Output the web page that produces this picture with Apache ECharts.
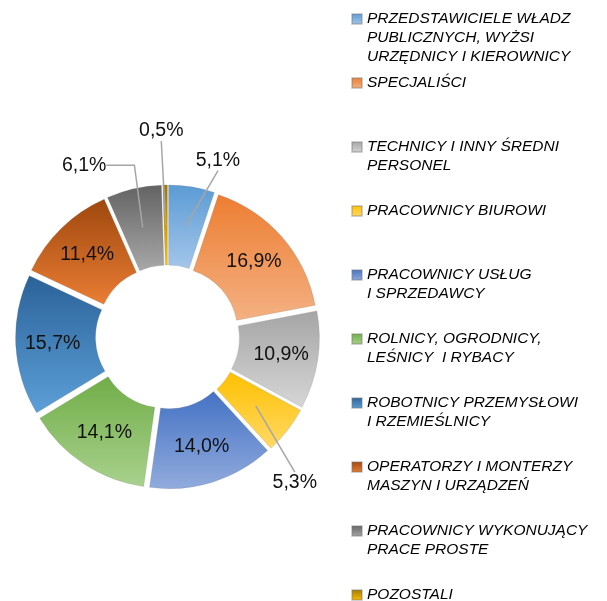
<!DOCTYPE html>
<html>
<head>
<meta charset="utf-8">
<script src="https://cdn.jsdelivr.net/npm/echarts@6/dist/echarts.min.js"></script>
<style>
  html, body { margin: 0; padding: 0; background: #fff; }
  #chart { width: 607px; height: 601px; }
</style>
</head>
<body>
<div id="chart"></div>
<script>
// grupy zawodów (kolejność jak w legendzie)
const categories = [
  'PRZEDSTAWICIELE WŁADZ\nPUBLICZNYCH, WYŻSI\nURZĘDNICY I KIEROWNICY',
  'SPECJALIŚCI',
  'TECHNICY I INNY ŚREDNI\nPERSONEL',
  'PRACOWNICY BIUROWI',
  'PRACOWNICY USŁUG\nI SPRZEDAWCY',
  'ROLNICY, OGRODNICY,\nLEŚNICY  I RYBACY',
  'ROBOTNICY PRZEMYSŁOWI\nI RZEMIEŚLNICY',
  'OPERATORZY I MONTERZY\nMASZYN I URZĄDZEŃ',
  'PRACOWNICY WYKONUJĄCY\nPRACE PROSTE',
  'POZOSTALI'
]
// udział w %
const shares = [5.1, 16.9, 10.9, 5.3, 14.0, 14.1, 15.7, 11.4, 6.1, 0.5]

// kolory gradientu (góra -> dół)
const topColors = ['#5b9bd5', '#ed7d31', '#a5a5a5', '#ffc000', '#4472c4', '#70ad47', '#2a6298', '#9e480e', '#636363', '#a07800']
const bottomColors = ['#a4c6ea', '#f4b183', '#d6d6d6', '#ffd966', '#91abdd', '#a9d18e', '#5d9fd8', '#ea7d34', '#a8a8a8', '#ffc000']

// etykiety poza pierścieniem: przesunięcie względem domyślnej pozycji
const outsideShift = { 0: [3, -51], 3: [0, 67], 8: [0, -48], 9: [23, -79] }

const font = "'Liberation Sans', Arial, sans-serif"
const fmt = v => v.toFixed(1).replace('.', ',') + '%'
const isOutside = i => outsideShift[i] !== undefined

let chart = echarts.init(document.getElementById('chart'))

//legenda - osobny komponent dla każdej pozycji, ikonka przy pierwszej linii
const lineH = 19
const legends = categories.map((name, i) => {
  const n = name.split('\n').length
  return {
    data: [name],
    orient: 'vertical',
    left: 351,
    top: 19 + 64 * i - (2 * n - 1) * lineH / 2,
    padding: 0,
    icon: 'rect',
    itemWidth: 10,
    itemHeight: 10,
    selectedMode: false,
    formatter: nm => '\n'.repeat(n - 1) + nm,
    textStyle: {
      fontFamily: font,
      fontStyle: 'italic',
      fontSize: 15.5,
      lineHeight: lineH,
      color: '#000'
    }
  }
})

chart.setOption({
  animation: false,
  legend: legends,
  series: [
    {
      type: 'pie',
      center: [167.5, 337],
      radius: [65, 145],
      startAngle: 90,
      avoidLabelOverlap: false,
      //rozsunięcie wycinków
      selectedMode: 'multiple',
      selectedOffset: 7,
      itemStyle: { borderColor: 'rgba(120,120,120,0.35)', borderWidth: 0.6 },
      label: {
        position: 'inside',
        formatter: p => fmt(p.value),
        fontFamily: font,
        fontSize: 19.5,
        color: '#111'
      },
      labelLine: { show: false },
      emphasis: { disabled: true },
      data: categories.map((name, i) => ({
        name,
        value: shares[i],
        selected: true,
        itemStyle: {
          color: new echarts.graphic.LinearGradient(0, 0, 0, 1, [
            { offset: 0, color: topColors[i] },
            { offset: 1, color: bottomColors[i] }
          ])
        },
        label: { show: !isOutside(i) }
      }))
    },
    {
      //niewidoczna warstwa - linie odniesienia od środka wycinka
      type: 'pie',
      z: 5,
      center: [167.5, 337],
      radius: [0, 112],
      startAngle: 90,
      silent: true,
      avoidLabelOverlap: false,
      itemStyle: { color: 'rgba(0,0,0,0)' },
      label: {
        position: 'outside',
        formatter: p => fmt(p.value),
        fontFamily: font,
        fontSize: 19.5,
        color: '#111'
      },
      labelLine: {
        length: 15,
        length2: 0,
        lineStyle: { color: '#a6a6a6', width: 1.5 }
      },
      labelLayout: p => {
        if (p.seriesIndex !== 1 || !isOutside(p.dataIndex)) return
        const s = outsideShift[p.dataIndex]
        const r = p.labelRect
        return {
          x: r.x + r.width / 2 + s[0],
          y: r.y + r.height / 2 + s[1],
          align: 'center',
          verticalAlign: 'middle'
        }
      },
      emphasis: { disabled: true },
      data: categories.map((name, i) => ({
        name,
        value: shares[i],
        label: { show: isOutside(i) },
        labelLine: { show: isOutside(i), length2: i === 8 ? 28 : 0 }
      }))
    }
  ]
})
</script>
</body>
</html>
